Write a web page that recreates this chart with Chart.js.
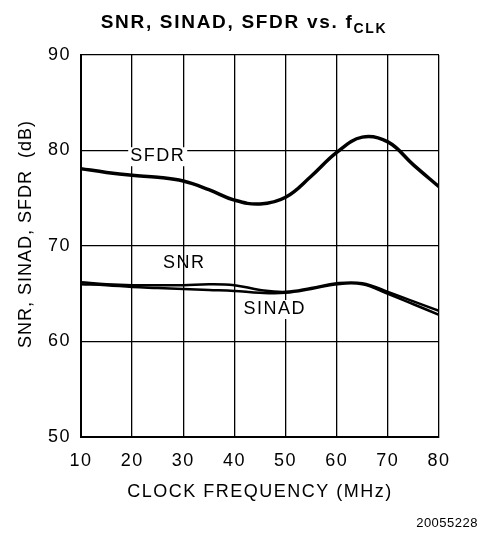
<!DOCTYPE html>
<html>
<head>
<meta charset="utf-8">
<script src="https://cdn.jsdelivr.net/npm/chart.js@4/dist/chart.umd.min.js"></script>
<style>
  html, body { margin: 0; padding: 0; background: #fff; }
  #wrap { width: 488px; height: 537px; position: relative; }
</style>
</head>
<body>
<div id="wrap"><canvas id="chart" width="488" height="537"></canvas></div>
<script>
// 読み取った値
const freqs = [10, 15, 20, 25, 30, 35, 40, 45, 50, 55, 60, 65, 70, 75, 80];
const sfdr  = [78.1, 77.7, 77.4, 77.2, 76.8, 75.9, 74.8, 74.4, 75.1, 77.3, 79.8, 81.4, 80.9, 78.5, 76.2];
const snr   = [66.2, 66.0, 65.9, 65.9, 65.9, 66.0, 65.9, 65.4, 65.2, 65.6, 66.1, 66.1, 65.2, 64.2, 63.2];
const sinad = [66.0, 65.9, 65.7, 65.6, 65.5, 65.4, 65.3, 65.1, 65.1, 65.5, 66.0, 66.0, 65.0, 63.9, 62.8];
const xTicks = [10, 20, 30, 40, 50, 60, 70, 80];
const yTicks = [50, 60, 70, 80, 90];

const FONT = "'Liberation Sans', Arial, Helvetica, sans-serif";
const SPACING = "1.5px";

function pts(ys) {
    return freqs.map((f, i) => ({ x: f, y: ys[i] }));
}

// 文字を少し横に広げる（元図の文字は横長）
const spacing = {
    id: "spacing",
    beforeLayout(chart) { chart.ctx.letterSpacing = SPACING; },
    beforeDraw(chart) { chart.ctx.letterSpacing = SPACING; },
};

// 曲線ラベル・タイトル・軸タイトル・図番号
const labels = {
    id: "labels",
    afterDraw(chart) {
        const ctx = chart.ctx;
        const xs = chart.scales.x;
        const ys = chart.scales.y;
        ctx.save();
        ctx.fillStyle = "#000";
        ctx.textBaseline = "middle";
        ctx.textAlign = "center";
        ctx.letterSpacing = SPACING;
        ctx.font = "18px " + FONT;
        const tags = [
            { t: "SFDR", x: 25.0, y: 79.4, bg: true },
            { t: "SNR", x: 30.2, y: 68.2, bg: false },
            { t: "SINAD", x: 47.9, y: 63.4, bg: true },
        ];
        tags.forEach((a) => {
            const px = xs.getPixelForValue(a.x);
            const py = ys.getPixelForValue(a.y);
            if (a.bg) {
                const w = ctx.measureText(a.t).width;
                ctx.fillStyle = "#fff";
                ctx.fillRect(px - w / 2 - 2, py - 9, w + 4, 19);
                ctx.fillStyle = "#000";
            }
            ctx.fillText(a.t, px, py);
        });

        // Y軸タイトル
        ctx.save();
        ctx.translate(26, 234);
        ctx.rotate(-Math.PI / 2);
        ctx.letterSpacing = "1px";
        ctx.fillText("SNR, SINAD, SFDR  (dB)", 0, 0);
        ctx.restore();

        // タイトル（下付き文字つき）
        ctx.textAlign = "left";
        ctx.textBaseline = "alphabetic";
        ctx.letterSpacing = "1.7px";
        const main = "SNR, SINAD, SFDR vs. f";
        ctx.font = "bold 19px " + FONT;
        const w1 = ctx.measureText(main).width;
        ctx.font = "bold 14px " + FONT;
        const w2 = ctx.measureText("CLK").width;
        const x0 = 244 - (w1 + w2) / 2;
        ctx.font = "bold 19px " + FONT;
        ctx.fillText(main, x0, 28);
        ctx.font = "bold 14px " + FONT;
        ctx.fillText("CLK", x0 + w1, 33);

        // 図番号
        ctx.font = "13px " + FONT;
        ctx.letterSpacing = "0.5px";
        ctx.textAlign = "right";
        ctx.fillText("20055228", 478, 527);
        ctx.restore();
    },
};

const lineStyle = {
    borderColor: "#000",
    backgroundColor: "#000",
    pointRadius: 0,
    fill: false,
    tension: 0.4,
};

new Chart(document.getElementById("chart").getContext("2d"), {
    type: "line",
    data: {
        datasets: [
            Object.assign({ label: "SFDR", data: pts(sfdr), borderWidth: 3.5 }, lineStyle),
            Object.assign({ label: "SNR", data: pts(snr), borderWidth: 2.5 }, lineStyle),
            Object.assign({ label: "SINAD", data: pts(sinad), borderWidth: 2.5 }, lineStyle),
        ],
    },
    options: {
        responsive: false,
        animation: false,
        layout: { padding: { top: 55, right: 49, left: 0, bottom: 0 } },
        plugins: {
            legend: { display: false },
            tooltip: { enabled: false },
        },
        scales: {
            x: {
                type: "linear",
                min: 10,
                max: 80,
                afterFit(s) { s.height = 100; },
                afterBuildTicks(s) { s.ticks = xTicks.map((v) => ({ value: v })); },
                grid: { color: "#000", lineWidth: 1.3, drawTicks: false },
                border: { color: "#000", width: 2 },
                ticks: { color: "#000", font: { family: FONT, size: 18 }, padding: 13, maxRotation: 0 },
                title: {
                    display: true,
                    text: "CLOCK FREQUENCY (MHz)",
                    color: "#000",
                    font: { family: FONT, size: 18 },
                    padding: { top: 4, bottom: 34 },
                },
            },
            y: {
                min: 50,
                max: 90,
                afterFit(s) { s.width = 81; },
                afterBuildTicks(s) { s.ticks = yTicks.map((v) => ({ value: v })); },
                grid: { color: "#000", lineWidth: 1.3, drawTicks: false },
                border: { color: "#000", width: 2 },
                ticks: { color: "#000", font: { family: FONT, size: 18 }, padding: 10 },
            },
        },
    },
    plugins: [spacing, labels],
});
</script>
</body>
</html>
